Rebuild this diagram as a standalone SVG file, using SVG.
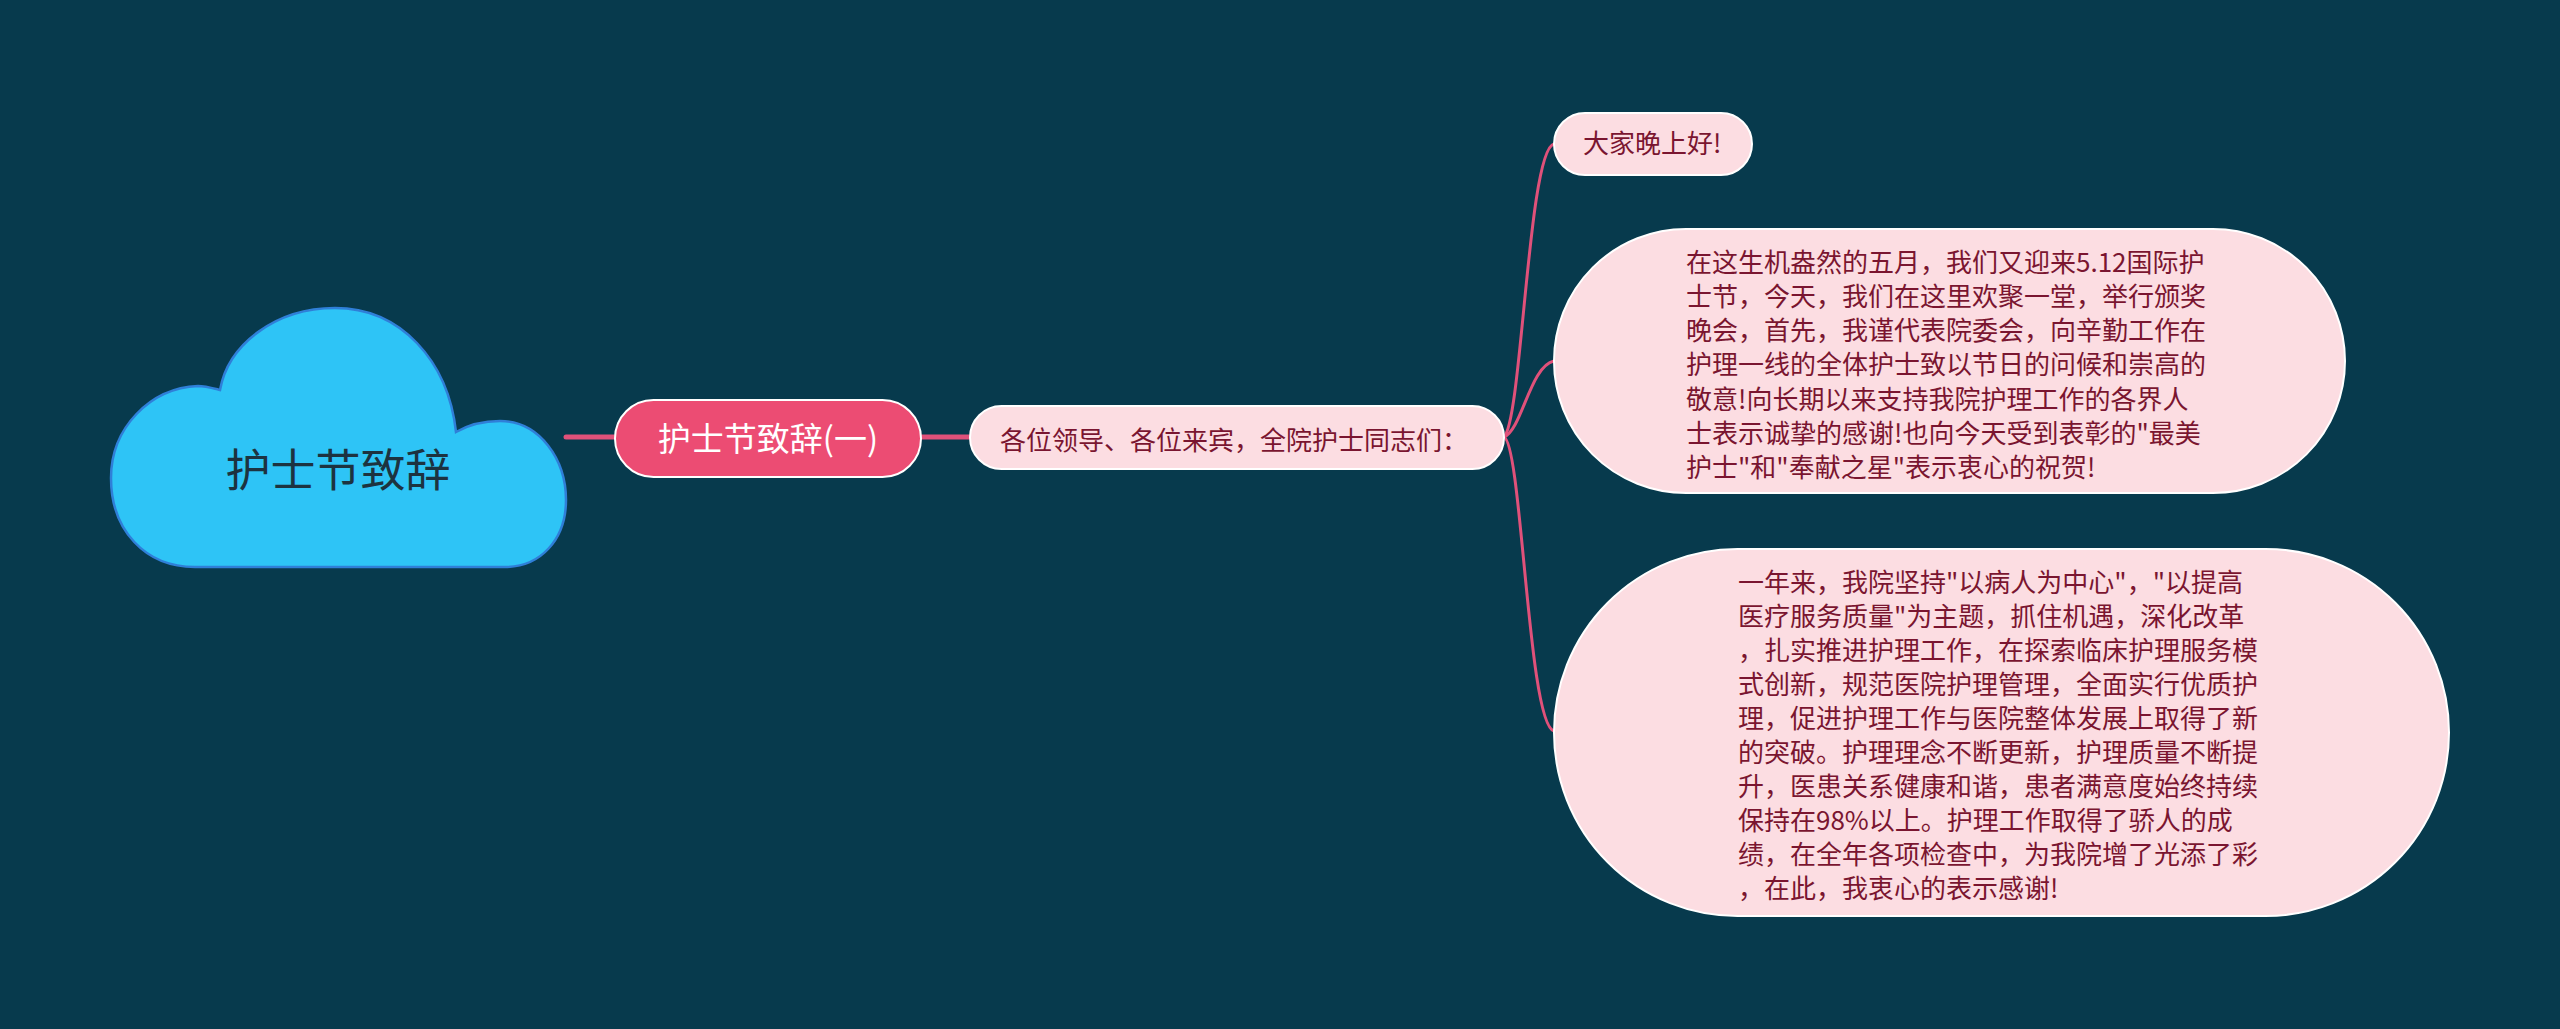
<svg xmlns="http://www.w3.org/2000/svg" width="2560" height="1029" viewBox="0 0 2560 1029">
<style>
.t{font-family:"Noto Sans CJK SC","Noto Sans",sans-serif;}
.leaf{fill:#FCDDE2;stroke:#FFFFFF;stroke-width:2;}
.lt{font-size:26px;fill:#7A1530;}
.con{fill:none;stroke:#E0517A;stroke-linecap:round;}
</style>
<rect width="2560" height="1029" fill="#073A4D"/>
<g id="connectors">
<path class="con" stroke-width="5" d="M566,437 L615,437"/>
<path class="con" stroke-width="5" d="M921,437 L970,437"/>
<path class="con" stroke-width="3" d="M1504,437 C1522,420 1528,150 1554,144"/>
<path class="con" stroke-width="3" d="M1504,437 C1522,430 1530,366 1554,361"/>
<path class="con" stroke-width="3" d="M1504,437 C1522,445 1528,725 1554,731"/>
</g>
<g id="root">
<path d="M195,567 C145,567 111,530 111,478 C111,428 150,388 198,386 C205,386 212,388 220,390 C228,345 275,308 335,308 C400,308 448,360 456,432 C470,424 485,421 500,421 C540,421 566,460 566,500 C566,540 540,567 505,567 Z" fill="#2EC4F6" stroke="#2F7FD8" stroke-width="2.5"/>
<text class="t" x="338" y="487" font-size="45" fill="#1D3340" text-anchor="middle">护士节致辞</text>
</g>
<g id="main">
<rect x="615" y="400" width="306" height="77" rx="38.5" fill="#EC4C73" stroke="#FFFFFF" stroke-width="2"/>
<text class="t" x="768" y="451" font-size="33" fill="#FFFFFF" text-anchor="middle">护士节致辞(一)</text>
</g>
<g id="greeting">
<rect class="leaf" x="970" y="406" width="534" height="63" rx="31.5"/>
<text class="t lt" x="1000" y="450">各位领导、各位来宾，全院护士同志们：</text>
</g>
<g id="child1">
<rect class="leaf" x="1554" y="113" width="198" height="62" rx="31"/>
<text class="t lt" x="1583" y="153">大家晚上好!</text>
</g>
<g id="child2">
<rect class="leaf" x="1554" y="229" width="791" height="264" rx="132"/>
<text class="t lt">
<tspan x="1686" y="272">在这生机盎然的五月，我们又迎来5.12国际护</tspan>
<tspan x="1686" y="306">士节，今天，我们在这里欢聚一堂，举行颁奖</tspan>
<tspan x="1686" y="340">晚会，首先，我谨代表院委会，向辛勤工作在</tspan>
<tspan x="1686" y="374">护理一线的全体护士致以节日的问候和崇高的</tspan>
<tspan x="1686" y="409">敬意!向长期以来支持我院护理工作的各界人</tspan>
<tspan x="1686" y="443">士表示诚挚的感谢!也向今天受到表彰的"最美</tspan>
<tspan x="1686" y="477">护士"和"奉献之星"表示衷心的祝贺!</tspan>
</text>
</g>
<g id="child3">
<rect class="leaf" x="1554" y="549" width="895" height="367" rx="183.5"/>
<text class="t lt">
<tspan x="1738" y="592">一年来，我院坚持"以病人为中心"，"以提高</tspan>
<tspan x="1738" y="626">医疗服务质量"为主题，抓住机遇，深化改革</tspan>
<tspan x="1738" y="660">，扎实推进护理工作，在探索临床护理服务模</tspan>
<tspan x="1738" y="694">式创新，规范医院护理管理，全面实行优质护</tspan>
<tspan x="1738" y="728">理，促进护理工作与医院整体发展上取得了新</tspan>
<tspan x="1738" y="762">的突破。护理理念不断更新，护理质量不断提</tspan>
<tspan x="1738" y="796">升，医患关系健康和谐，患者满意度始终持续</tspan>
<tspan x="1738" y="830">保持在98%以上。护理工作取得了骄人的成</tspan>
<tspan x="1738" y="864">绩，在全年各项检查中，为我院增了光添了彩</tspan>
<tspan x="1738" y="898">，在此，我衷心的表示感谢!</tspan>
</text>
</g>
</svg>
